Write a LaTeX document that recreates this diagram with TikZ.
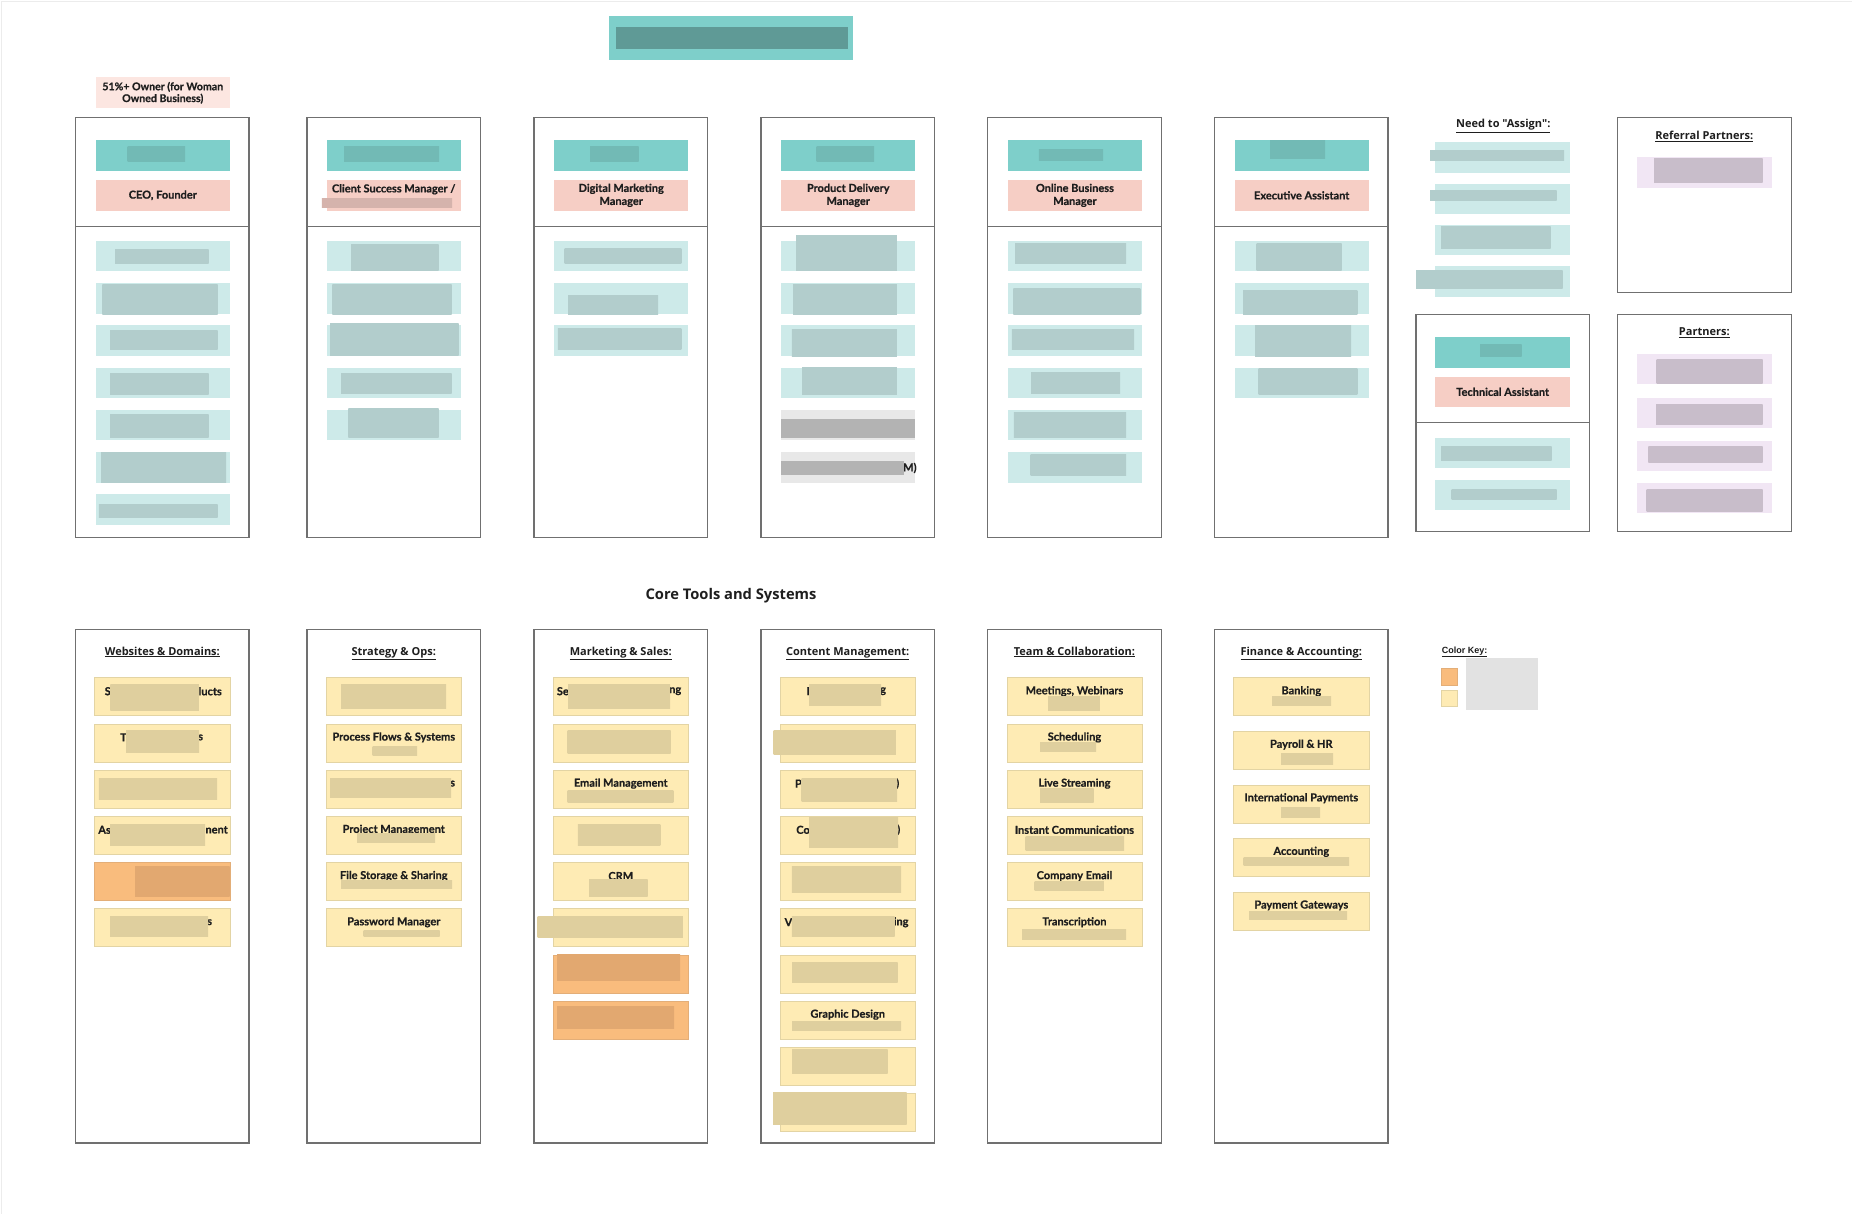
\documentclass[tikz,border=0pt]{standalone}
\usepackage{fontspec}
\setmainfont{Lato}[BoldFeatures={FakeBold=0.7}]
\newfontfamily\hfont{Open Sans}
\newfontfamily\kfont{Liberation Sans}
\definecolor{teal1}{HTML}{7ECFCA}
\definecolor{pink1}{HTML}{F6CEC5}
\definecolor{pink2}{HTML}{FCE6E1}
\definecolor{lteal}{HTML}{CDEAE9}
\definecolor{lgrey}{HTML}{E8E8E8}
\definecolor{yel}{HTML}{FEEBB4}
\definecolor{yelb}{HTML}{E3D4A4}
\definecolor{ora}{HTML}{F9BC7D}
\definecolor{orab}{HTML}{E3AE78}
\definecolor{lav}{HTML}{F1E6F4}
\definecolor{colb}{HTML}{707070}
\definecolor{txt}{HTML}{1E1E1E}
\definecolor{bTeal}{HTML}{9CB6B5}
\definecolor{bHead}{HTML}{66A6A1}
\definecolor{bTitle}{HTML}{5F9A96}
\definecolor{bYel}{HTML}{C6B98C}
\definecolor{bOra}{HTML}{D29A68}
\definecolor{bLav}{HTML}{ADA1AE}
\definecolor{bGrey}{HTML}{B3B3B3}
\definecolor{bPink}{HTML}{B59893}
\definecolor{bKey}{HTML}{E2E2E2}
\newcounter{blc}
\newcounter{frc}
\newcommand\rbox[6]{\pgfmathsetmacro\rbw{#5-(#3)}\pgfmathsetmacro\rbh{#6-(#4)}%
  \pgfmathsetmacro\rbx{#3}\pgfmathsetmacro\rby{#4}%
  \node[#2,anchor=north west,minimum width=\rbw pt,minimum height=\rbh pt,inner sep=0pt,outer sep=0pt] (#1) at (\rbx,\rby) {};}
\newcommand\blur[5]{\stepcounter{blc}\rbox{bl\arabic{blc}}{#1}{#2}{#3}{#4}{#5}}
\newcommand\fr[4]{\stepcounter{frc}\node[lbl,anchor=#1] (fr\arabic{frc}) at (#2,#3) {#4};}
\begin{document}
\begin{tikzpicture}[x=1pt,y=-1pt,
  colbox/.style={draw=colb,line width=1.4pt,fill=white},
  colline/.style={draw=colb,line width=1.4pt},
  tealbox/.style={fill=teal1},
  pinkbox/.style={fill=pink1},
  ownbox/.style={fill=pink2},
  litem/.style={fill=lteal},
  gitem/.style={fill=lgrey},
  yitem/.style={fill=yel,draw=yelb,line width=0.8pt},
  oitem/.style={fill=ora,draw=orab,line width=0.8pt},
  vitem/.style={fill=lav},
  blurT/.style={left color=bTeal!55!lteal,middle color=bTeal,right color=bTeal!55!lteal},
  blurH/.style={left color=bHead!50!teal1,middle color=bHead,right color=bHead!50!teal1},
  blurTitle/.style={fill=bTitle},
  blurY/.style={left color=bYel!55!yel,middle color=bYel,right color=bYel!55!yel},
  blurO/.style={left color=bOra!60!ora,middle color=bOra,right color=bOra!60!ora},
  blurV/.style={left color=bLav!60!lav,middle color=bLav,right color=bLav!60!lav},
  blurG/.style={fill=bGrey},
  blurP/.style={left color=bPink!50!pink1,middle color=bPink,right color=bPink!50!pink1},
  blurK/.style={fill=bKey},
  lbl/.style={font=\bfseries\fontsize{11}{13}\selectfont,text=txt,inner sep=0pt,align=center},
  hd/.style={font=\hfont\bfseries\fontsize{11}{12.5}\selectfont,text=txt,inner sep=0pt,text height=8.3pt,text depth=2.6pt}]
\useasboundingbox (0,0) rectangle (1852,1214);
\fill[white] (0,0) rectangle (1852,1214);
\draw[gray!15,line width=1pt] (1.5,1214) -- (1.5,1.5) -- (1852,1.5);

% title
\rbox{title}{tealbox}{608.8}{16}{853.4}{60}
\blur{blurTitle}{615.7}{26.7}{848.2}{49}
% owner note
\rbox{owner}{ownbox}{95.6}{77.3}{229.9}{108.3}
\node[lbl,font=\bfseries\fontsize{10.6}{11.8}\selectfont] (ownertxt) at (owner) {51\%+ Owner (for Woman\\Owned Business)};

% top columns
\foreach \L [count=\i] in {75.6,307,534,761,987.7,1214.5}{
  \rbox{top\i}{colbox}{\L}{117.3}{\L+173.5}{537.4}
  \draw[colline] (top\i.west |- 0,226.7) -- (top\i.east |- 0,226.7);
  \rbox{hd\i}{tealbox}{\L+20}{140}{\L+154.4}{171}
  \rbox{rl\i}{pinkbox}{\L+20}{180}{\L+154.4}{210.7}
}
\node[lbl] (rt1) at (rl1) {CEO, Founder};
\node[lbl] (rt2) at (393.7,189.3) {Client Success Manager /};
\blur{blurP}{321.8}{199}{452}{208}
\node[lbl] (rt3) at (rl3) {Digital Marketing\\Manager};
\node[lbl] (rt4) at (rl4) {Product Delivery\\Manager};
\node[lbl] (rt5) at (rl5) {Online Business\\Manager};
\node[lbl] (rt6) at (rl6) {Executive Assistant};
% header blurs
\blur{blurH}{127.7}{146.7}{185}{161.7}
\blur{blurH}{344}{146.7}{439}{161.7}
\blur{blurH}{590}{146.7}{638.7}{161.7}
\blur{blurH}{816.6}{146.7}{874}{161.7}
\blur{blurH}{1038.8}{150}{1103}{160.7}
\blur{blurH}{1270}{141}{1325}{159}

% top items
\foreach \L/\n/\st [count=\c] in {75.6/7/litem,307/5/litem,534/3/litem,987.7/6/litem,1214.5/4/litem}{
  \foreach \k in {1,...,\n}{
    \rbox{tiA\c x\k}{\st}{\L+20}{241+42.2*(\k-1)}{\L+154.4}{271.5+42.2*(\k-1)}
  }
}
\foreach \k/\st in {1/litem,2/litem,3/litem,4/litem,5/gitem,6/gitem}{
  \rbox{tiB\k}{\st}{781}{241+42.2*(\k-1)}{915.4}{271.5+42.2*(\k-1)}
}
% col1 blurs
\blur{blurT}{115}{250}{208.7}{263.7}
\blur{blurT}{102.4}{285}{217.6}{314.3}
\blur{blurT}{110}{331}{217.6}{350}
\blur{blurT}{110}{374}{208.7}{394}
\blur{blurT}{110}{414}{208.7}{437.7}
\blur{blurT}{101}{452.7}{226}{482}
\blur{blurT}{98.8}{504}{217.6}{517.7}
% col2 blurs
\blur{blurT}{351}{245}{438.6}{270.7}
\blur{blurT}{332.3}{285}{451.5}{314.3}
\blur{blurT}{330}{324}{458.7}{356}
\blur{blurT}{341}{373.3}{451.5}{393.3}
\blur{blurT}{348.4}{408.3}{438.6}{437.3}
% col3 blurs
\blur{blurT}{564.5}{248.3}{681.4}{263.7}
\blur{blurT}{568}{296}{658}{314.3}
\blur{blurT}{557.8}{328.3}{681.4}{349.3}
% col4 blurs
\blur{blurT}{796}{236}{896.8}{270.7}
\blur{blurT}{793}{285}{896.8}{314.3}
\blur{blurT}{791.9}{330}{896.8}{356.7}
\blur{blurT}{802}{368}{896.8}{394}
\blur{blurG}{781}{419}{914.7}{437.7}
\fr{west}{903}{468}{M)}
\blur{blurG}{781}{461}{904}{475}
% col5 blurs
\blur{blurT}{1015}{244}{1126}{263.7}
\blur{blurT}{1013.4}{288.3}{1140.4}{314.3}
\blur{blurT}{1011.8}{330}{1134}{350}
\blur{blurT}{1031}{373}{1120}{393.3}
\blur{blurT}{1013.9}{412}{1126}{437.7}
\blur{blurT}{1030.5}{454.7}{1126}{475}
% col6 blurs
\blur{blurT}{1256.6}{244}{1341.7}{271}
\blur{blurT}{1243}{291}{1357.4}{314.3}
\blur{blurT}{1255}{326}{1351}{356.7}
\blur{blurT}{1258.7}{369}{1357.4}{394}

% need to assign
\node[hd] (assignhd) at (1503.3,125) {\underline{Need to "Assign":}};
\foreach \t [count=\k] in {142.3,183.7,225,266.3}{
  \rbox{as\k}{litem}{1435.3}{\t}{1570}{\t+30.4}
}
\blur{blurT}{1430}{151}{1564}{160.7}
\blur{blurT}{1430}{191}{1556.7}{200.7}
\blur{blurT}{1441}{226.7}{1550.7}{248.7}
\blur{blurT}{1416}{270.7}{1562.7}{288.3}

% technical assistant
\rbox{tech}{colbox}{1416}{314.3}{1589.3}{531.7}
\draw[colline] (tech.west |- 0,422.7) -- (tech.east |- 0,422.7);
\rbox{techhd}{tealbox}{1435.3}{337}{1570}{367.7}
\blur{blurH}{1480}{344.3}{1521.7}{356.7}
\rbox{techrl}{pinkbox}{1435.3}{376.7}{1570}{407}
\node[lbl] (techtxt) at (techrl) {Technical Assistant};
\rbox{te1}{litem}{1435.3}{438}{1570}{468}
\rbox{te2}{litem}{1435.3}{480}{1570}{510.3}
\blur{blurT}{1441}{446}{1551.7}{460}
\blur{blurT}{1451.7}{489}{1556.7}{499.3}

% referral partners
\rbox{refbox}{colbox}{1617.3}{117.3}{1791.3}{292.7}
\node[hd] (refhd) at (1704.3,136.7) {\underline{Referral Partners:}};
\rbox{ref1}{vitem}{1637}{157.3}{1772}{187.7}
\blur{blurV}{1654}{159}{1762.7}{182.3}
% partners
\rbox{parbox}{colbox}{1617.3}{314.3}{1791.3}{531.7}
\node[hd] (parhd) at (1704.3,332.7) {\underline{Partners:}};
\foreach \t [count=\k] in {354,397.7,441.3,483.3}{
  \rbox{par\k}{vitem}{1637}{\t}{1772}{\t+30}
}
\blur{blurV}{1656.7}{360}{1762.7}{383.3}
\blur{blurV}{1656}{404.3}{1762.7}{424}
\blur{blurV}{1648.3}{446}{1762.7}{462.7}
\blur{blurV}{1646.7}{489}{1762.7}{511}

% core tools
\node[font=\hfont\bfseries\fontsize{14.7}{16}\selectfont,text=txt] (coretitle) at (731,595.5) {Core Tools and Systems};

\foreach \L/\h [count=\i] in {75.6/Websites \& Domains:,307/Strategy \& Ops:,534/Marketing \& Sales:,761/Content Management:,987.7/Team \& Collaboration:,1214.5/Finance \& Accounting:}{
  \rbox{bot\i}{colbox}{\L}{629.3}{\L+173.5}{1143}
  \node[hd] (bh\i) at (\L+86.75,652.3) {\underline{\h}};
}
% yellow items
\foreach \L/\n [count=\c] in {75.6/6,307/6,534/8,761/10,987.7/6}{
  \foreach \k in {1,...,\n}{
    \rbox{bi\c x\k}{yitem}{\L+19.2}{677.7+46.2*(\k-1)}{\L+154.5}{715.7+46.2*(\k-1)}
  }
}
\rbox{orA}{oitem}{94.8}{862.5}{230.1}{900.5}
\rbox{orB}{oitem}{553.2}{954.9}{688.5}{992.9}
\rbox{orC}{oitem}{553.2}{1001.1}{688.5}{1039.1}
\foreach \k in {1,...,5}{
  \rbox{fi\k}{yitem}{1233.7}{677.7+53.6*(\k-1)}{1369}{715.7+53.6*(\k-1)}
}
% col1
\fr{east}{111}{691.2}{S}\fr{east}{222}{691.2}{lucts}
\blur{blurY}{110.4}{684}{198.8}{710}
\fr{east}{127}{737.4}{T}\fr{west}{198}{737.4}{s}
\blur{blurY}{126}{730}{199}{752.7}
\blur{blurY}{98.8}{778}{217}{799}
\fr{east}{111}{829.8}{As}\fr{east}{228}{829.8}{nent}
\blur{blurY}{110}{824}{205}{845.7}
\blur{blurO}{135}{866}{229.6}{896}
\fr{west}{207}{922.2}{s}
\blur{blurY}{110}{916}{208}{936}
% col2
\blur{blurY}{341}{684}{446}{708}
\node[lbl] (s2) at (393.75,737.4) {Process Flows \& Systems};
\blur{blurY}{372.5}{746.7}{417}{755}
\fr{west}{450}{783.6}{s}
\blur{blurY}{330}{778}{451}{797.7}
\node[lbl] (s4) at (393.75,829.8) {Project Management};
\blur{blurY}{357}{833}{435}{842.7}
\node[lbl] (s5) at (393.75,876) {File Storage \& Sharing};
\blur{blurY}{341}{880.7}{452}{888.7}
\node[lbl] (s6) at (393.75,922.2) {Password Manager};
\blur{blurY}{363.6}{930}{439.5}{936.7}
% col3
\fr{east}{569}{691.2}{Se}\fr{west}{669}{691.2}{ng}
\blur{blurY}{568}{684}{670}{708.7}
\blur{blurY}{567.6}{730}{670.7}{753.7}
\node[lbl] (m3) at (620.75,783.6) {Email Management};
\blur{blurY}{567.6}{790.7}{673.4}{802.7}
\blur{blurY}{577.9}{824}{660.4}{845}
\node[lbl] (m5) at (620.75,876) {CRM};
\blur{blurY}{589}{879.3}{647.5}{896}
\blur{blurY}{537.7}{916}{682.8}{937.7}
\blur{blurO}{557}{954}{680}{980.7}
\blur{blurO}{557}{1006.7}{674}{1028.3}
% col4
\fr{east}{810}{691.2}{I}\fr{west}{880}{691.2}{g}
\blur{blurY}{809}{684}{881}{705}
\blur{blurY}{773.5}{730}{895.8}{754}
\fr{east}{802}{783.6}{P}\fr{west}{896}{783.6}{)}
\blur{blurY}{801.6}{778}{897}{801.7}
\fr{east}{810}{829.8}{Co}\fr{west}{897}{829.8}{)}
\blur{blurY}{809}{817.7}{898}{847}
\blur{blurY}{791.8}{866}{901}{892.7}
\fr{east}{792.5}{922.2}{V}\fr{west}{893.5}{922.2}{ing}
\blur{blurY}{791.8}{916}{894.5}{936.7}
\blur{blurY}{792}{962}{897.7}{982.7}
\node[lbl] (c8) at (847.75,1014.6) {Graphic Design};
\blur{blurY}{792}{1021}{901}{1030.7}
\blur{blurY}{792}{1049.3}{887.7}{1073.7}
\blur{blurY}{773}{1092.3}{906.7}{1124.3}
% col5
\node[lbl] (t1) at (1074.45,691.2) {Meetings, Webinars};
\blur{blurY}{1048}{696}{1099.8}{710.7}
\node[lbl] (t2) at (1074.45,737.4) {Scheduling};
\blur{blurY}{1040}{742.7}{1096}{751}
\node[lbl] (t3) at (1074.45,783.6) {Live Streaming};
\blur{blurY}{1040}{788.3}{1093.6}{802}
\node[lbl] (t4) at (1074.45,829.8) {Instant Communications};
\blur{blurY}{1025.7}{836}{1124}{850}
\node[lbl] (t5) at (1074.45,876) {Company Email};
\blur{blurY}{1034.6}{881.7}{1103.8}{890}
\node[lbl] (t6) at (1074.45,922.2) {Transcription};
\blur{blurY}{1022}{929.3}{1126}{939}
% col6
\node[lbl] (f1) at (1301.3,691.2) {Banking};
\blur{blurY}{1272}{696.7}{1331}{705}
\node[lbl] (f2) at (1301.3,744.6) {Payroll \& HR};
\blur{blurY}{1281}{753}{1333}{764.3}
\node[lbl] (f3) at (1301.3,798.2) {International Payments};
\blur{blurY}{1281}{807}{1320}{817.3}
\node[lbl] (f4) at (1301.3,851.8) {Accounting};
\blur{blurY}{1243.6}{857.3}{1349}{865}
\node[lbl] (f5) at (1301.3,905.4) {Payment Gateways};
\blur{blurY}{1249}{911.7}{1347}{919.3}

% color key
\node[font=\kfont\bfseries\fontsize{9}{10}\selectfont,text=txt,anchor=west,inner sep=0pt] (keyhd) at (1441.7,652) {\underline{Color Key:}};
\rbox{keyO}{oitem}{1441}{668.3}{1457.7}{685}
\rbox{keyY}{yitem}{1441}{690}{1457.7}{706.7}
\blur{blurK}{1466}{658.3}{1538}{710}
\end{tikzpicture}
\end{document}
